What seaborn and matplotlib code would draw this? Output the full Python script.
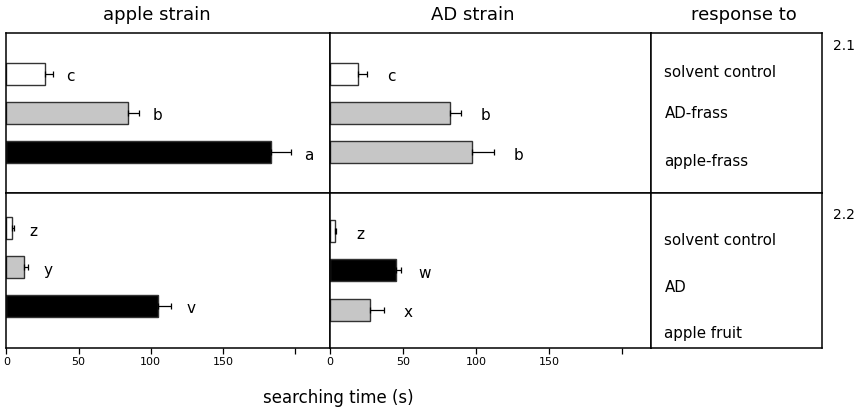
import numpy as np
import seaborn as sns
import matplotlib.pyplot as plt

# ==========================================
# 데이터 (searching time, s)
# ==========================================
cues_frass = ["solvent control", "AD-frass", "apple-frass"]
cues_fruit = ["solvent control", "AD", "apple fruit"]

# 2.1 : frass
apple_frass_mean = [26.5, 84, 183]
apple_frass_err = [5.5, 8, 14]
apple_frass_sig = ["c", "b", "a"]
ad_frass_mean = [19.5, 82, 97.5]
ad_frass_err = [5.5, 7.5, 14.5]
ad_frass_sig = ["c", "b", "b"]

# 2.2 : fruit / AD
apple_fruit_mean = [4, 12.3, 105.3]
apple_fruit_err = [1, 2.8, 9]
apple_fruit_sig = ["z", "y", "v"]
ad_fruit_mean = [3.1, 45.4, 27.4]
ad_fruit_err = [1.2, 3.2, 9.8]
ad_fruit_sig = ["z", "w", "x"]

ticks = [0, 50, 100, 150, 200]
tick_labels = ["0", "50", "100", "150", ""]

# 색상: 흰색 / 회색 / 검정
W, G, K = "white", "#c6c6c6", "black"
apple_frass_col = [W, G, K]
ad_frass_col = [W, G, G]
apple_fruit_col = [W, G, K]
ad_fruit_col = [W, K, G]

sns.set_style("white")
plt.rcParams["font.family"] = ["DejaVu Sans"]
plt.rcParams["text.color"] = "black"
plt.rcParams["xtick.color"] = "black"
plt.rcParams["axes.labelcolor"] = "black"

fig = plt.figure(figsize=(8.56, 4.12), dpi=100)

def fx(px):
    return px / 856

def fy(top, bottom):
    return (412 - bottom) / 412, (bottom - top) / 412

# 패널 위치 (픽셀 → figure 좌표)
cols = [(6.3, 330), (330, 650.7), (650.7, 822)]
rows = [(33, 193), (193, 347.7)]


def make_ax(c, r):
    x0, x1 = cols[c]
    b, h = fy(*rows[r])
    ax = fig.add_axes([fx(x0), b, fx(x1 - x0), h])
    for s in ax.spines.values():
        s.set_visible(True)
        s.set_color("black")
        s.set_linewidth(1.1)
    return ax


def bar_panel(ax, cats, mean, err, sig, colors, xmax, ylim, offset, bottom_row):
    sns.barplot(x=mean, y=cats, hue=cats, palette=colors, legend=False,
                orient="h", width=0.56, edgecolor="#333333", linewidth=1.0,
                ax=ax)
    pos = np.arange(len(cats))
    ax.errorbar(mean, pos, xerr=[np.zeros(len(err)), err], fmt="none",
                ecolor="black", elinewidth=0.9, capsize=2.5, capthick=0.9)
    for i in range(len(cats)):
        ax.annotate(sig[i], xy=(mean[i] + err[i], pos[i]),
                    xytext=(offset, -3), textcoords="offset pixels",
                    ha="center", va="center", fontsize=11)
    ax.set_xlim(0, xmax)
    ax.set_ylim(*ylim)
    ax.set_yticks([])
    ax.set_ylabel("")
    ax.set_xlabel("")
    if bottom_row:
        ax.set_xticks(ticks)
        ax.set_xticklabels(tick_labels, fontsize=8)
        ax.tick_params(axis="x", direction="out", length=4, width=0.9,
                       bottom=True, pad=3, colors="black")
    else:
        ax.set_xticks([])


ax1 = make_ax(0, 0)
bar_panel(ax1, cues_frass, apple_frass_mean, apple_frass_err, apple_frass_sig,
          apple_frass_col, 224, (3.05, -1.05), 18, False)
ax2 = make_ax(1, 0)
bar_panel(ax2, cues_frass, ad_frass_mean, ad_frass_err, ad_frass_sig,
          ad_frass_col, 219.6, (3.05, -1.05), 25, False)
ax3 = make_ax(0, 1)
bar_panel(ax3, cues_fruit, apple_fruit_mean, apple_fruit_err, apple_fruit_sig,
          apple_fruit_col, 224, (3.08, -0.91), 20, True)
ax4 = make_ax(1, 1)
bar_panel(ax4, cues_fruit, ad_fruit_mean, ad_fruit_err, ad_fruit_sig,
          ad_fruit_col, 219.6, (2.97, -0.97), 24, True)

# 오른쪽 "response to" 패널
ax5 = make_ax(2, 0)
ax6 = make_ax(2, 1)
for ax, labels, ys in [(ax5, cues_frass, [0.755, 0.5, 0.195]),
                       (ax6, cues_fruit, [0.69, 0.39, 0.095])]:
    ax.set_xticks([])
    ax.set_yticks([])
    for lab, yy in zip(labels, ys):
        ax.text(0.08, yy, lab, transform=ax.transAxes, ha="left",
                va="center", fontsize=10.8)

# 제목 및 라벨
fig.text(fx(157), 1 - 15 / 412, "apple strain", ha="center", va="center", fontsize=13)
fig.text(fx(473), 1 - 15 / 412, "AD strain", ha="center", va="center", fontsize=13)
fig.text(fx(744), 1 - 15 / 412, "response to", ha="center", va="center", fontsize=13)
fig.text(fx(338), 1 - 398 / 412, "searching time (s)", ha="center", va="center", fontsize=12)
fig.text(fx(833), 1 - 46 / 412, "2.1", ha="left", va="center", fontsize=10)
fig.text(fx(833), 1 - 215 / 412, "2.2", ha="left", va="center", fontsize=10)

fig.savefig("out.png", dpi=100)
